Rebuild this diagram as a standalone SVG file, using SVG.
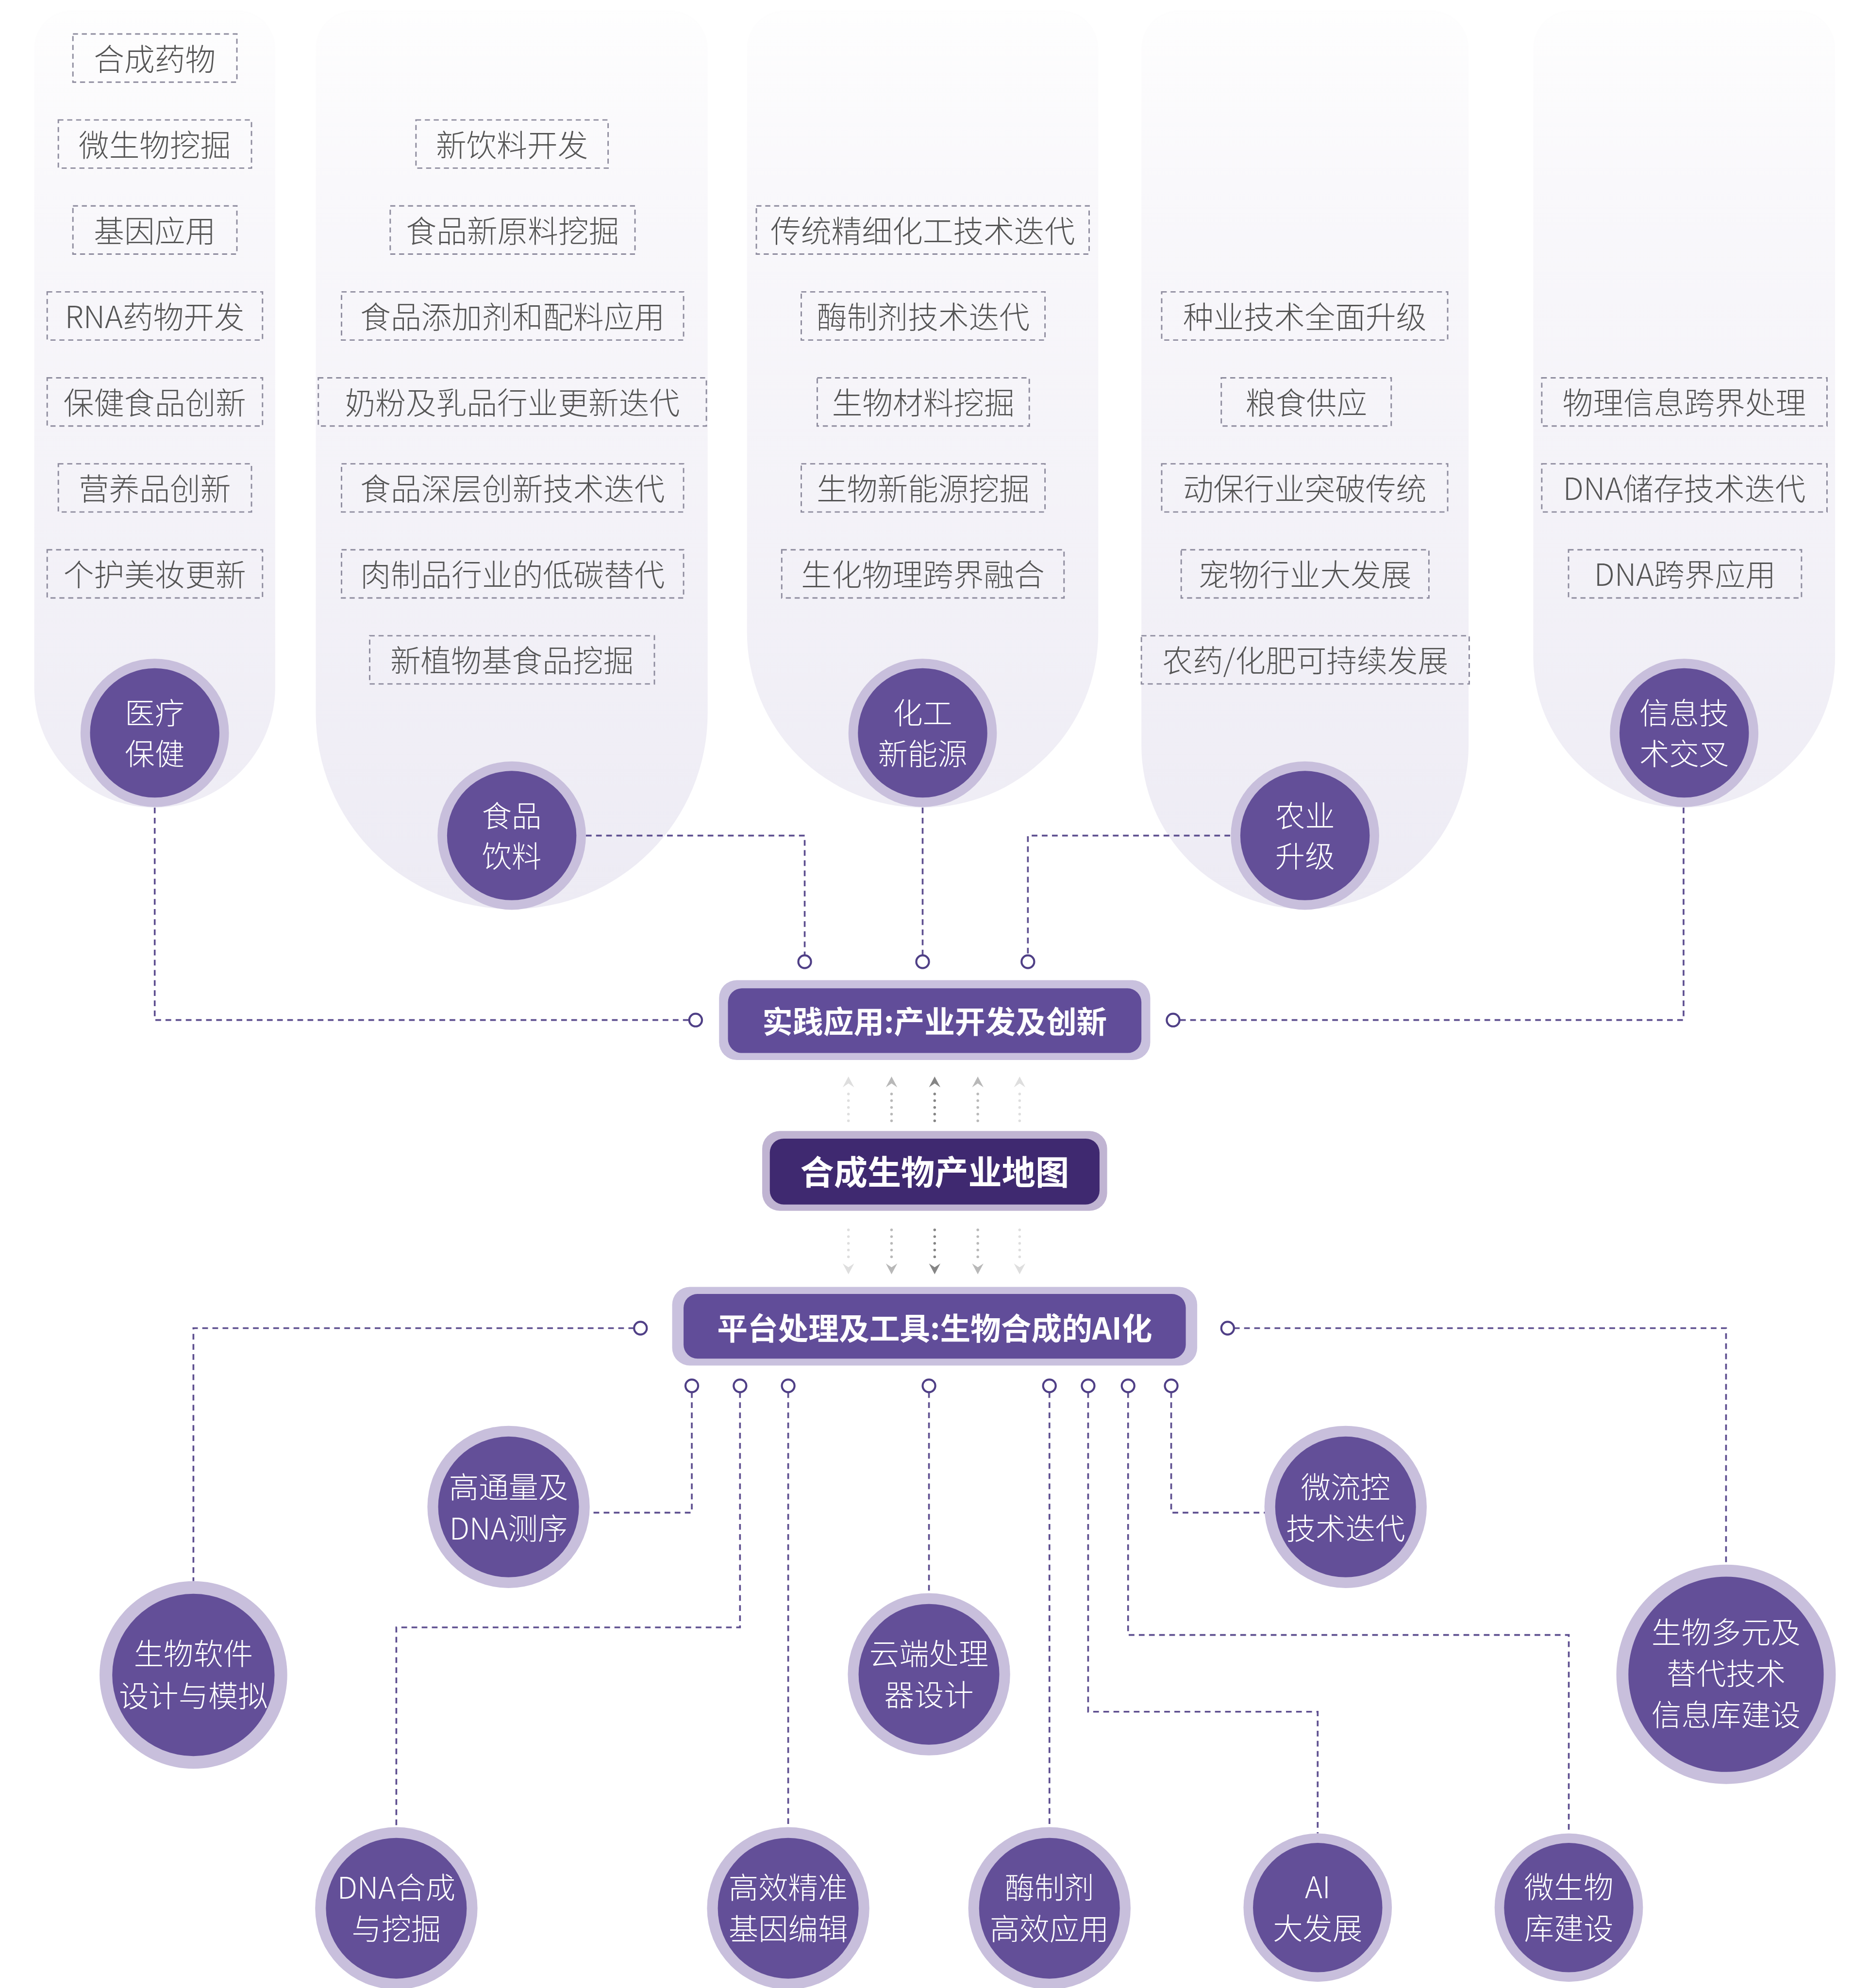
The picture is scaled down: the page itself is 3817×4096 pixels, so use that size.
<svg xmlns="http://www.w3.org/2000/svg" width="3817" height="4096" viewBox="0 0 3817 4096">
<style>
.col{fill:url(#colg)}
.db{fill:none;stroke:#8e8c9e;stroke-width:1.1;stroke-dasharray:4 3}
.lbl{font-family:"Noto Sans CJK SC","Noto Sans",sans-serif;font-size:24px;font-weight:300;fill:#555555;text-anchor:middle;dominant-baseline:central}
.ring{fill:#c8bfdc}
.core{fill:#634f98}
.ct{font-family:"Noto Sans CJK SC","Noto Sans",sans-serif;font-size:23.5px;font-weight:300;fill:#ffffff;text-anchor:middle;dominant-baseline:central}
.bt{font-family:"Noto Sans CJK SC","Noto Sans",sans-serif;font-weight:700;fill:#ffffff;text-anchor:middle;dominant-baseline:central}
.conn{fill:none;stroke:#5e4f90;stroke-width:1.4;stroke-dasharray:4.5 3.5}
.port{fill:#ffffff;stroke:#4f3f86;stroke-width:1.6}
.dots{fill:none;stroke-width:2.1;stroke-linecap:round;stroke-dasharray:0 5.3}
</style>
<defs>
<linearGradient id="colg" gradientUnits="userSpaceOnUse" x1="0" y1="0" x2="0" y2="717">
<stop offset="0" stop-color="#fefefe"/>
<stop offset="0.2" stop-color="#f9f8fb"/>
<stop offset="1" stop-color="#edebf4"/>
</linearGradient>
</defs>
<rect width="3817" height="4096" fill="#ffffff"/>
<g transform="scale(2.6124)">
<g id="columns">
<path class="col" d="M27,542 V38 A30,30 0 0 1 57,8 H187 A30,30 0 0 1 217,38 V542 A95,95 0 0 1 27,542 Z"/>
<path class="col" d="M249,562.5 V38 A30,30 0 0 1 279,8 H528 A30,30 0 0 1 558,38 V562.5 A154.5,154.5 0 0 1 249,562.5 Z"/>
<path class="col" d="M589,498.5 V38 A30,30 0 0 1 619,8 H836 A30,30 0 0 1 866,38 V498.5 A138.5,138.5 0 0 1 589,498.5 Z"/>
<path class="col" d="M900,588 V38 A30,30 0 0 1 930,8 H1128 A30,30 0 0 1 1158,38 V588 A129,129 0 0 1 900,588 Z"/>
<path class="col" d="M1209,518 V38 A30,30 0 0 1 1239,8 H1417 A30,30 0 0 1 1447,38 V518 A119,119 0 0 1 1209,518 Z"/>
</g>
<g id="items">
<g id="i1"><rect class="db" x="57.5" y="26.8" width="129.3" height="38"/><text class="lbl" x="122" y="44.8">合成药物</text></g>
<g id="i2"><rect class="db" x="46" y="94.6" width="152.3" height="38"/><text class="lbl" x="122" y="112.6">微生物挖掘</text></g>
<g id="i3"><rect class="db" x="57.5" y="162.4" width="129.3" height="38"/><text class="lbl" x="122" y="180.4">基因应用</text></g>
<g id="i4"><rect class="db" x="37.2" y="230.2" width="169.8" height="38"/><text class="lbl" x="122" y="248.2">RNA药物开发</text></g>
<g id="i5"><rect class="db" x="37.2" y="298" width="169.8" height="38"/><text class="lbl" x="122" y="316">保健食品创新</text></g>
<g id="i6"><rect class="db" x="46" y="365.8" width="152.3" height="38"/><text class="lbl" x="122" y="383.8">营养品创新</text></g>
<g id="i7"><rect class="db" x="37.2" y="433.6" width="169.8" height="38"/><text class="lbl" x="122" y="451.6">个护美妆更新</text></g>

<g id="i8"><rect class="db" x="328" y="94.6" width="151.5" height="38"/><text class="lbl" x="403.7" y="112.6">新饮料开发</text></g>
<g id="i9"><rect class="db" x="307.7" y="162.4" width="193" height="38"/><text class="lbl" x="404.2" y="180.4">食品新原料挖掘</text></g>
<g id="i10"><rect class="db" x="269.3" y="230.2" width="269.7" height="38"/><text class="lbl" x="404.1" y="248.2">食品添加剂和配料应用</text></g>
<g id="i11"><rect class="db" x="251" y="298" width="306" height="38"/><text class="lbl" x="404" y="316">奶粉及乳品行业更新迭代</text></g>
<g id="i12"><rect class="db" x="269.3" y="365.8" width="269.7" height="38"/><text class="lbl" x="404.1" y="383.8">食品深层创新技术迭代</text></g>
<g id="i13"><rect class="db" x="269.3" y="433.6" width="269.7" height="38"/><text class="lbl" x="404.1" y="451.6">肉制品行业的低碳替代</text></g>
<g id="i14"><rect class="db" x="291.5" y="501.4" width="224.5" height="38"/><text class="lbl" x="403.7" y="519.4">新植物基食品挖掘</text></g>

<g id="i15"><rect class="db" x="596.4" y="162.4" width="262.4" height="38"/><text class="lbl" x="727.6" y="180.4">传统精细化工技术迭代</text></g>
<g id="i16"><rect class="db" x="631.8" y="230.2" width="192.2" height="38"/><text class="lbl" x="727.9" y="248.2">酶制剂技术迭代</text></g>
<g id="i17"><rect class="db" x="644.4" y="298" width="167.2" height="38"/><text class="lbl" x="728" y="316">生物材料挖掘</text></g>
<g id="i18"><rect class="db" x="631.8" y="365.8" width="192.2" height="38"/><text class="lbl" x="727.9" y="383.8">生物新能源挖掘</text></g>
<g id="i19"><rect class="db" x="616.4" y="433.6" width="222.6" height="38"/><text class="lbl" x="727.7" y="451.6">生化物理跨界融合</text></g>

<g id="i20"><rect class="db" x="916" y="230.2" width="225.5" height="38"/><text class="lbl" x="1028.8" y="248.2">种业技术全面升级</text></g>
<g id="i21"><rect class="db" x="963" y="298" width="134" height="38"/><text class="lbl" x="1030" y="316">粮食供应</text></g>
<g id="i22"><rect class="db" x="916" y="365.8" width="225.5" height="38"/><text class="lbl" x="1028.8" y="383.8">动保行业突破传统</text></g>
<g id="i23"><rect class="db" x="931.4" y="433.6" width="195.3" height="38"/><text class="lbl" x="1029" y="451.6">宠物行业大发展</text></g>
<g id="i24"><rect class="db" x="900" y="501.4" width="258.5" height="38"/><text class="lbl" x="1029.2" y="519.4">农药/化肥可持续发展</text></g>

<g id="i25"><rect class="db" x="1215.7" y="298" width="224.9" height="38"/><text class="lbl" x="1328.1" y="316">物理信息跨界处理</text></g>
<g id="i26"><rect class="db" x="1215.7" y="365.8" width="224.9" height="38"/><text class="lbl" x="1328.1" y="383.8">DNA储存技术迭代</text></g>
<g id="i27"><rect class="db" x="1236.8" y="433.6" width="183.7" height="38"/><text class="lbl" x="1328.6" y="451.6">DNA跨界应用</text></g>
</g>

<g id="connectors">
<path class="conn" d="M122,637 V804.5 H543.5"/>
<path class="conn" d="M462,659 H634.5 V753"/>
<path class="conn" d="M727.5,637 V753"/>
<path class="conn" d="M970,659 H810.5 V753"/>
<path class="conn" d="M1327.5,637 V804.5 H930"/>
<path class="conn" d="M500,1047.5 H152.5 V1247"/>
<path class="conn" d="M545.5,1098 V1193 H465"/>
<path class="conn" d="M583.5,1098 V1283.5 H312.5 V1441"/>
<path class="conn" d="M621.5,1098 V1441"/>
<path class="conn" d="M732.5,1098 V1256"/>
<path class="conn" d="M827.5,1098 V1441"/>
<path class="conn" d="M858,1098 V1350 H1039 V1446"/>
<path class="conn" d="M889.5,1098 V1289.5 H1237 V1446"/>
<path class="conn" d="M923.5,1098 V1193 H998"/>
<path class="conn" d="M973,1047.5 H1361 V1234"/>
<g id="ports">
<circle class="port" cx="634.5" cy="758.5" r="5"/>
<circle class="port" cx="727.5" cy="758.5" r="5"/>
<circle class="port" cx="810.5" cy="758.5" r="5"/>
<circle class="port" cx="548.5" cy="804.5" r="5"/>
<circle class="port" cx="925" cy="804.5" r="5"/>
<circle class="port" cx="505" cy="1047.5" r="5"/>
<circle class="port" cx="968" cy="1047.5" r="5"/>
<circle class="port" cx="545.5" cy="1093" r="5"/>
<circle class="port" cx="583.5" cy="1093" r="5"/>
<circle class="port" cx="621.5" cy="1093" r="5"/>
<circle class="port" cx="732.5" cy="1093" r="5"/>
<circle class="port" cx="827.5" cy="1093" r="5"/>
<circle class="port" cx="858" cy="1093" r="5"/>
<circle class="port" cx="889.5" cy="1093" r="5"/>
<circle class="port" cx="923.5" cy="1093" r="5"/>
</g>
<g id="flow-arrows">
<path class="dots" stroke="#dedede" d="M669,884 V858"/>
<path fill="#dedede" d="M664.5,857.5 L669,849 L673.5,857.5 L669,854.5 Z"/>
<path class="dots" stroke="#b8b8b8" d="M703,884 V858"/>
<path fill="#b8b8b8" d="M698.5,857.5 L703,849 L707.5,857.5 L703,854.5 Z"/>
<path class="dots" stroke="#858585" d="M737,884 V858"/>
<path fill="#858585" d="M732.5,857.5 L737,849 L741.5,857.5 L737,854.5 Z"/>
<path class="dots" stroke="#b8b8b8" d="M771,884 V858"/>
<path fill="#b8b8b8" d="M766.5,857.5 L771,849 L775.5,857.5 L771,854.5 Z"/>
<path class="dots" stroke="#dedede" d="M804,884 V858"/>
<path fill="#dedede" d="M799.5,857.5 L804,849 L808.5,857.5 L804,854.5 Z"/>

<path class="dots" stroke="#dedede" d="M669,970 V996"/>
<path fill="#dedede" d="M664.5,996.5 L669,1005 L673.5,996.5 L669,999.5 Z"/>
<path class="dots" stroke="#b8b8b8" d="M703,970 V996"/>
<path fill="#b8b8b8" d="M698.5,996.5 L703,1005 L707.5,996.5 L703,999.5 Z"/>
<path class="dots" stroke="#858585" d="M737,970 V996"/>
<path fill="#858585" d="M732.5,996.5 L737,1005 L741.5,996.5 L737,999.5 Z"/>
<path class="dots" stroke="#b8b8b8" d="M771,970 V996"/>
<path fill="#b8b8b8" d="M766.5,996.5 L771,1005 L775.5,996.5 L771,999.5 Z"/>
<path class="dots" stroke="#dedede" d="M804,970 V996"/>
<path fill="#dedede" d="M799.5,996.5 L804,1005 L808.5,996.5 L804,999.5 Z"/>
</g>
</g>

<g id="box-practice">
<rect x="567" y="773" width="340" height="63" rx="14" fill="#c9c1de"/>
<rect x="574" y="779.5" width="326" height="51" rx="11" fill="#614d99"/>
<text class="bt" x="737" y="804" font-size="24">实践应用:产业开发及创新</text>
</g>
<g id="box-map">
<rect x="601" y="892" width="272" height="63" rx="14" fill="#c0b4d2"/>
<rect x="607" y="898" width="260" height="52" rx="11" fill="#3f2970"/>
<text class="bt" x="737" y="923" font-size="26.5">合成生物产业地图</text>
</g>
<g id="box-platform">
<rect x="530" y="1015" width="414" height="62" rx="14" fill="#c9c1de"/>
<rect x="539" y="1020.5" width="396" height="51" rx="11" fill="#614d99"/>
<text class="bt" x="737" y="1046" font-size="24">平台处理及工具:生物合成的AI化</text>
</g>

<g id="n-medical"><circle class="ring" cx="122" cy="578" r="58.5"/><circle class="core" cx="122" cy="578" r="51"/><text class="ct" x="122" y="561">医疗</text><text class="ct" x="122" y="593">保健</text></g>
<g id="n-food"><circle class="ring" cx="403.5" cy="659" r="58.5"/><circle class="core" cx="403.5" cy="659" r="51"/><text class="ct" x="403.5" y="642">食品</text><text class="ct" x="403.5" y="674">饮料</text></g>
<g id="n-chem"><circle class="ring" cx="727.5" cy="578" r="58.5"/><circle class="core" cx="727.5" cy="578" r="51"/><text class="ct" x="727.5" y="561">化工</text><text class="ct" x="727.5" y="593">新能源</text></g>
<g id="n-agri"><circle class="ring" cx="1029" cy="659" r="58.5"/><circle class="core" cx="1029" cy="659" r="51"/><text class="ct" x="1029" y="642">农业</text><text class="ct" x="1029" y="674">升级</text></g>
<g id="n-info"><circle class="ring" cx="1328" cy="578" r="58.5"/><circle class="core" cx="1328" cy="578" r="51"/><text class="ct" x="1328" y="561">信息技</text><text class="ct" x="1328" y="593">术交叉</text></g>

<g id="n-software"><circle class="ring" cx="152.5" cy="1321" r="74"/><circle class="core" cx="152.5" cy="1321" r="64"/><text class="ct" x="152.5" y="1303">生物软件</text><text class="ct" x="152.5" y="1336">设计与模拟</text></g>
<g id="n-seq"><circle class="ring" cx="401" cy="1188.5" r="64"/><circle class="core" cx="401" cy="1188.5" r="55.5"/><text class="ct" x="401" y="1171.5">高通量及</text><text class="ct" x="401" y="1204">DNA测序</text></g>
<g id="n-cloud"><circle class="ring" cx="732.5" cy="1320.5" r="64"/><circle class="core" cx="732.5" cy="1320.5" r="55.5"/><text class="ct" x="732.5" y="1303">云端处理</text><text class="ct" x="732.5" y="1335.5">器设计</text></g>
<g id="n-micro"><circle class="ring" cx="1061" cy="1188.5" r="64"/><circle class="core" cx="1061" cy="1188.5" r="55.5"/><text class="ct" x="1061" y="1171.5">微流控</text><text class="ct" x="1061" y="1204">技术迭代</text></g>
<g id="n-multi"><circle class="ring" cx="1361" cy="1320.5" r="86.5"/><circle class="core" cx="1361" cy="1320.5" r="77"/><text class="ct" x="1361" y="1286">生物多元及</text><text class="ct" x="1361" y="1318.5">替代技术</text><text class="ct" x="1361" y="1351">信息库建设</text></g>
<g id="n-dna"><circle class="ring" cx="312.5" cy="1505" r="64"/><circle class="core" cx="312.5" cy="1505" r="55.5"/><text class="ct" x="312.5" y="1487.5">DNA合成</text><text class="ct" x="312.5" y="1520">与挖掘</text></g>
<g id="n-gene"><circle class="ring" cx="621.5" cy="1505" r="64"/><circle class="core" cx="621.5" cy="1505" r="55.5"/><text class="ct" x="621.5" y="1487.5">高效精准</text><text class="ct" x="621.5" y="1520">基因编辑</text></g>
<g id="n-enzyme"><circle class="ring" cx="827.5" cy="1505" r="64"/><circle class="core" cx="827.5" cy="1505" r="55.5"/><text class="ct" x="827.5" y="1487.5">酶制剂</text><text class="ct" x="827.5" y="1520">高效应用</text></g>
<g id="n-ai"><circle class="ring" cx="1039" cy="1504.5" r="58.5"/><circle class="core" cx="1039" cy="1504.5" r="51"/><text class="ct" x="1039" y="1487">AI</text><text class="ct" x="1039" y="1519.5">大发展</text></g>
<g id="n-lib"><circle class="ring" cx="1237" cy="1504.5" r="58.5"/><circle class="core" cx="1237" cy="1504.5" r="51"/><text class="ct" x="1237" y="1487">微生物</text><text class="ct" x="1237" y="1519.5">库建设</text></g>
</g>
</svg>
